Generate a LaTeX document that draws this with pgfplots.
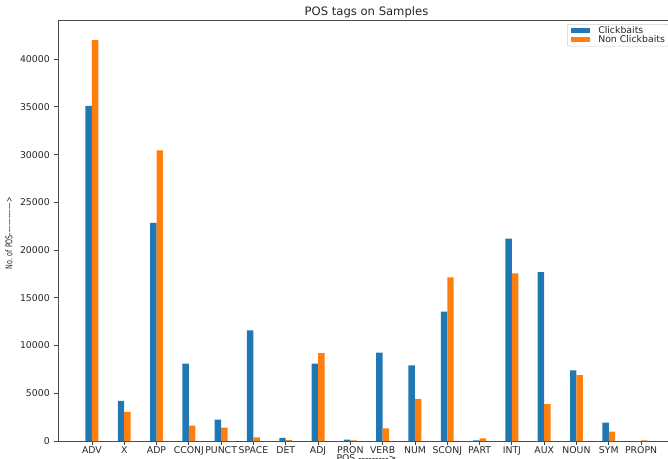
\documentclass[border=0pt]{standalone}
\usepackage{fontspec}
\setmainfont{DejaVu Sans}
\usepackage{pgfplots}
\usepackage{pgfplotstable}
\pgfplotsset{compat=1.18}
\usepackage{graphicx}
\definecolor{mplblue}{HTML}{1F77B4}
\definecolor{mplorange}{HTML}{FF7F0E}
\newcommand{\hy}{-\kern0pt}
\newcommand{\tk}{\fontsize{7}{8}\selectfont}

\pgfplotstableread{
idx blue orange
0 35100 42000
1 4200 3050
2 22850 30450
3 8100 1600
4 2250 1400
5 11600 380
6 320 80
7 8100 9200
8 150 60
9 9250 1330
10 7930 4400
11 13550 17150
12 60 280
13 21200 17550
14 17700 3850
15 7400 6900
16 1930 980
17 0 60
}\datatable

\begin{document}
\begin{tikzpicture}
\begin{axis}[
  at={(0pt,0pt)}, anchor=south west,
  scale only axis, width=462.75pt, height=315.75pt,
  xmin=-1.05, xmax=18.05, ymin=0, ymax=44100,
  xtick={0,...,17},
  xticklabels={ADV,X,ADP,CCONJ,PUNCT,SPACE,DET,ADJ,PRON,VERB,NUM,SCONJ,PART,INTJ,AUX,NOUN,SYM,PROPN},
  ytick={0,5000,...,40000},
  scaled y ticks=false,
  /pgf/number format/1000 sep={},
  /pgf/number format/assume math mode=true,
  tick pos=left, tick align=outside,
  major tick length=3pt,
  tick style={black!75, line width=0.6pt},
  axis line style={black!70, line width=0.6pt},
  ticklabel style={font=\tk, text=black!85},
  xticklabel style={inner sep=0pt, yshift=-0.75pt},
  yticklabel style={inner sep=0pt, xshift=-3pt},
  title={POS tags on Samples},
  every axis title/.style={font=\fontsize{8.7}{10}\selectfont, text=black!85, at={(axis description cs:0.5,1)}, anchor=base, yshift=3pt, inner sep=0pt},
  xlabel={POS \hy\hy\hy\hy\hy\hy\hy\hy\hy>},
  every axis x label/.style={font=\tk, text=black!85, at={(axis description cs:0.5,0)}, anchor=north, yshift=-9.75pt, inner sep=0pt},
  ylabel={\scalebox{0.68}[1]{No. of POS\hy\hy\hy\hy\hy\hy\hy\hy\hy\hy\hy\hy\hy\hy>}},
  every axis y label/.style={font=\tk, text=black!85, at={(axis description cs:-0.0794,0.493)}, rotate=90, anchor=center, inner sep=0pt},
  legend cell align=left,
  legend style={at={(rel axis cs:0.825,0.9905)}, anchor=north west, font=\tk, text=black!85,
    draw=black!20, rounded corners=1.5pt, fill=white, inner xsep=3pt, inner ysep=1.5pt,
    row sep=0pt, column sep=6pt,
    nodes={inner sep=0pt, text height=5.2pt, text depth=1.5pt}},
]
\addplot[ybar, bar width=0.2, bar shift=-0.1, fill=mplblue, draw=none,
  legend image code/.code={\fill[mplblue, sharp corners] (0pt,-1.9pt) rectangle (14.25pt,1.9pt);}]
  table[x=idx, y=blue]{\datatable};
\addlegendentry{Clickbaits}
\addplot[ybar, bar width=0.2, bar shift=0.1, fill=mplorange, draw=none,
  legend image code/.code={\fill[mplorange, sharp corners] (0pt,-1.9pt) rectangle (14.25pt,1.9pt);}]
  table[x=idx, y=orange]{\datatable};
\addlegendentry{Non Clickbaits}
\end{axis}
\pgfresetboundingbox
\path[use as bounding box] (-43.5pt,-12.75pt) rectangle (457.5pt,330.75pt);
\end{tikzpicture}
\end{document}
